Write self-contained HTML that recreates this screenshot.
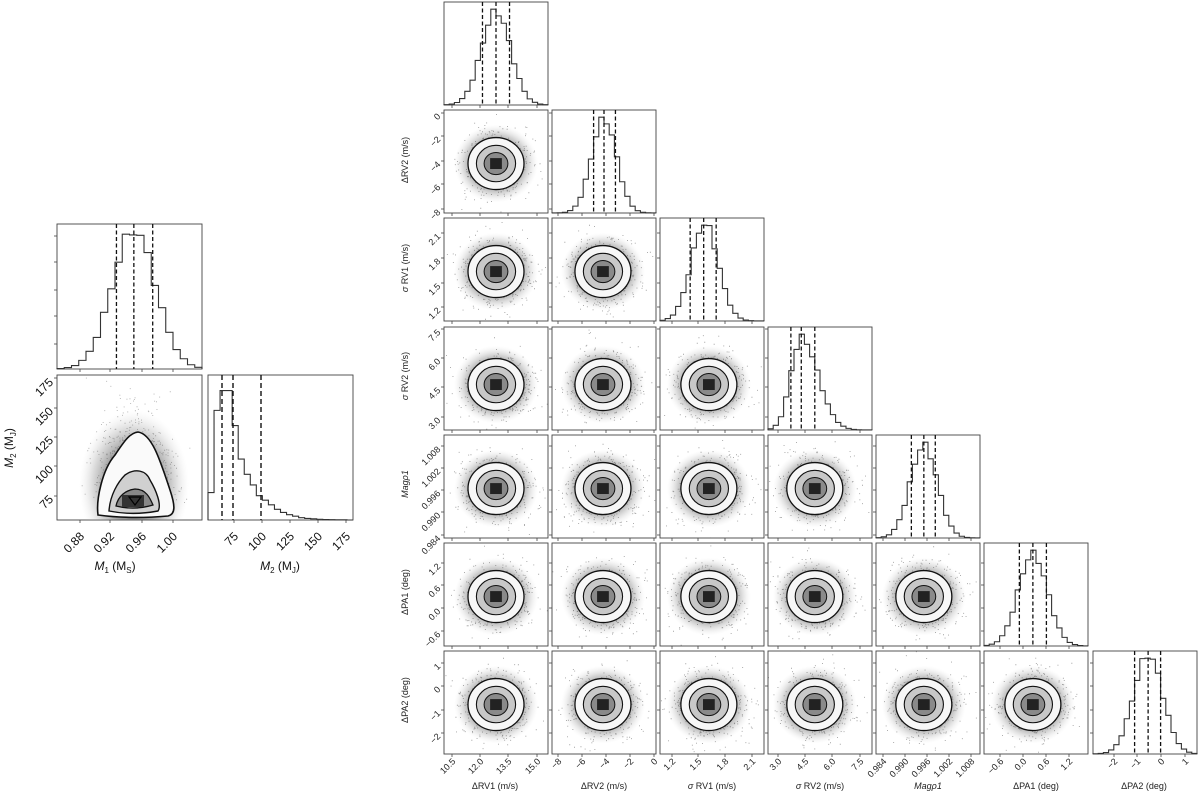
<!DOCTYPE html>
<html><head><meta charset="utf-8"><style>
html,body{margin:0;padding:0;background:#fff;}
svg{display:block;font-family:"Liberation Sans","DejaVu Sans",sans-serif;}
.t{font-size:9px;fill:#222;}
.l{font-size:9px;fill:#222;}
.L{font-size:12px;fill:#111;}
</style></head><body>
<svg id="s" width="1200" height="796" viewBox="0 0 1200 796" xmlns="http://www.w3.org/2000/svg">
<defs>
<radialGradient id="cloud">
<stop offset="0" stop-color="#444" stop-opacity="1"/>
<stop offset="0.5" stop-color="#666" stop-opacity="0.85"/>
<stop offset="0.75" stop-color="#999" stop-opacity="0.45"/>
<stop offset="1" stop-color="#ddd" stop-opacity="0"/>
</radialGradient>
</defs>
<g id="shapes"></g>
<g class="t">
<text transform="translate(456,762) rotate(-45)" text-anchor="end">10.5</text>
<text transform="translate(484,762) rotate(-45)" text-anchor="end">12.0</text>
<text transform="translate(512,762) rotate(-45)" text-anchor="end">13.5</text>
<text transform="translate(541,762) rotate(-45)" text-anchor="end">15.0</text>
<text transform="translate(562,762) rotate(-45)" text-anchor="end">−8</text>
<text transform="translate(586,762) rotate(-45)" text-anchor="end">−6</text>
<text transform="translate(610,762) rotate(-45)" text-anchor="end">−4</text>
<text transform="translate(634,762) rotate(-45)" text-anchor="end">−2</text>
<text transform="translate(658,762) rotate(-45)" text-anchor="end">0</text>
<text transform="translate(676,762) rotate(-45)" text-anchor="end">1.2</text>
<text transform="translate(702,762) rotate(-45)" text-anchor="end">1.5</text>
<text transform="translate(729,762) rotate(-45)" text-anchor="end">1.8</text>
<text transform="translate(756,762) rotate(-45)" text-anchor="end">2.1</text>
<text transform="translate(782,762) rotate(-45)" text-anchor="end">3.0</text>
<text transform="translate(809,762) rotate(-45)" text-anchor="end">4.5</text>
<text transform="translate(836,762) rotate(-45)" text-anchor="end">6.0</text>
<text transform="translate(864,762) rotate(-45)" text-anchor="end">7.5</text>
<text transform="translate(887,762) rotate(-45)" text-anchor="end">0.984</text>
<text transform="translate(909,762) rotate(-45)" text-anchor="end">0.990</text>
<text transform="translate(931,762) rotate(-45)" text-anchor="end">0.996</text>
<text transform="translate(953,762) rotate(-45)" text-anchor="end">1.002</text>
<text transform="translate(975,762) rotate(-45)" text-anchor="end">1.008</text>
<text transform="translate(1004,762) rotate(-45)" text-anchor="end">−0.6</text>
<text transform="translate(1027,762) rotate(-45)" text-anchor="end">0.0</text>
<text transform="translate(1050,762) rotate(-45)" text-anchor="end">0.6</text>
<text transform="translate(1073,762) rotate(-45)" text-anchor="end">1.2</text>
<text transform="translate(1118,762) rotate(-45)" text-anchor="end">−2</text>
<text transform="translate(1141,762) rotate(-45)" text-anchor="end">−1</text>
<text transform="translate(1165,762) rotate(-45)" text-anchor="end">0</text>
<text transform="translate(1189,762) rotate(-45)" text-anchor="end">1</text>
</g>
<g class="l" text-anchor="middle">
<text x="495" y="789">ΔRV1 (m/s)</text>
<text x="604" y="789">ΔRV2 (m/s)</text>
<text x="712" y="789"><tspan font-style="italic">σ</tspan> RV1 (m/s)</text>
<text x="820" y="789"><tspan font-style="italic">σ</tspan> RV2 (m/s)</text>
<text x="928" y="789" font-style="italic">Magρ1</text>
<text x="1036" y="789">ΔPA1 (deg)</text>
<text x="1144" y="789">ΔPA2 (deg)</text>
</g>
<g class="t">
<text transform="translate(441,117) rotate(-45)" text-anchor="end">0</text>
<text transform="translate(441,140) rotate(-45)" text-anchor="end">−2</text>
<text transform="translate(441,165) rotate(-45)" text-anchor="end">−4</text>
<text transform="translate(441,188) rotate(-45)" text-anchor="end">−6</text>
<text transform="translate(441,213) rotate(-45)" text-anchor="end">−8</text>
<text transform="translate(441,237) rotate(-45)" text-anchor="end">2.1</text>
<text transform="translate(441,262) rotate(-45)" text-anchor="end">1.8</text>
<text transform="translate(441,287) rotate(-45)" text-anchor="end">1.5</text>
<text transform="translate(441,311) rotate(-45)" text-anchor="end">1.2</text>
<text transform="translate(441,333) rotate(-45)" text-anchor="end">7.5</text>
<text transform="translate(441,362) rotate(-45)" text-anchor="end">6.0</text>
<text transform="translate(441,391) rotate(-45)" text-anchor="end">4.5</text>
<text transform="translate(441,421) rotate(-45)" text-anchor="end">3.0</text>
<text transform="translate(441,450) rotate(-45)" text-anchor="end">1.008</text>
<text transform="translate(441,472) rotate(-45)" text-anchor="end">1.002</text>
<text transform="translate(441,494) rotate(-45)" text-anchor="end">0.996</text>
<text transform="translate(441,516) rotate(-45)" text-anchor="end">0.990</text>
<text transform="translate(441,539) rotate(-45)" text-anchor="end">0.984</text>
<text transform="translate(441,567) rotate(-45)" text-anchor="end">1.2</text>
<text transform="translate(441,589) rotate(-45)" text-anchor="end">0.6</text>
<text transform="translate(441,612) rotate(-45)" text-anchor="end">0.0</text>
<text transform="translate(441,635) rotate(-45)" text-anchor="end">−0.6</text>
<text transform="translate(441,667) rotate(-45)" text-anchor="end">1</text>
<text transform="translate(441,690) rotate(-45)" text-anchor="end">0</text>
<text transform="translate(441,714) rotate(-45)" text-anchor="end">−1</text>
<text transform="translate(441,737) rotate(-45)" text-anchor="end">−2</text>
</g>
<g class="l" text-anchor="middle">
<text transform="translate(408,160) rotate(-90)">ΔRV2 (m/s)</text>
<text transform="translate(408,268) rotate(-90)"><tspan font-style="italic">σ</tspan> RV1 (m/s)</text>
<text transform="translate(408,376) rotate(-90)"><tspan font-style="italic">σ</tspan> RV2 (m/s)</text>
<text transform="translate(408,484) rotate(-90)" font-style="italic">Magρ1</text>
<text transform="translate(408,592) rotate(-90)">ΔPA1 (deg)</text>
<text transform="translate(408,700) rotate(-90)">ΔPA2 (deg)</text>
</g>
<g class="L">
<text transform="translate(85,537) rotate(-45)" text-anchor="end">0.88</text>
<text transform="translate(115,537) rotate(-45)" text-anchor="end">0.92</text>
<text transform="translate(147,537) rotate(-45)" text-anchor="end">0.96</text>
<text transform="translate(178,537) rotate(-45)" text-anchor="end">1.00</text>
<text transform="translate(239,537) rotate(-45)" text-anchor="end">75</text>
<text transform="translate(267,537) rotate(-45)" text-anchor="end">100</text>
<text transform="translate(295,537) rotate(-45)" text-anchor="end">125</text>
<text transform="translate(323,537) rotate(-45)" text-anchor="end">150</text>
<text transform="translate(351,537) rotate(-45)" text-anchor="end">175</text>
<text transform="translate(54,383) rotate(-45)" text-anchor="end">175</text>
<text transform="translate(54,412) rotate(-45)" text-anchor="end">150</text>
<text transform="translate(54,441) rotate(-45)" text-anchor="end">125</text>
<text transform="translate(54,470) rotate(-45)" text-anchor="end">100</text>
<text transform="translate(54,500) rotate(-45)" text-anchor="end">75</text>
<text x="115" y="570" text-anchor="middle"><tspan font-style="italic">M</tspan><tspan font-size="8" dy="3">1</tspan><tspan dy="-3"> (M</tspan><tspan font-size="8" dy="3">S</tspan><tspan dy="-3">)</tspan></text>
<text x="280" y="570" text-anchor="middle"><tspan font-style="italic">M</tspan><tspan font-size="8" dy="3">2</tspan><tspan dy="-3"> (M</tspan><tspan font-size="8" dy="3">J</tspan><tspan dy="-3">)</tspan></text>
<text transform="translate(13,448) rotate(-90)" text-anchor="middle"><tspan font-style="italic">M</tspan><tspan font-size="8" dy="3">2</tspan><tspan dy="-3"> (M</tspan><tspan font-size="8" dy="3">J</tspan><tspan dy="-3">)</tspan></text>
</g>
</svg>
<script>
(function(){
var NS="http://www.w3.org/2000/svg",G=document.getElementById("shapes");
function el(n,a,p){var e=document.createElementNS(NS,n);for(var k in a)e.setAttribute(k,a[k]);(p||G).appendChild(e);return e;}
var seed=7;function rnd(){seed=(seed*16807)%2147483647;return seed/2147483647;}
function gauss(){var u=rnd()||1e-9,v=rnd();return Math.sqrt(-2*Math.log(u))*Math.cos(6.2832*v);}
function frame(x,y,w,h,tx,ty){
 el("rect",{x:x,y:y,width:w,height:h,fill:"none",stroke:"#444","stroke-width":0.9});
 (tx||[]).forEach(function(t){el("line",{x1:t,y1:y+h,x2:t,y2:y+h+3,stroke:"#444","stroke-width":0.8});});
 (ty||[]).forEach(function(t){el("line",{x1:x,y1:t,x2:x-3,y2:t,stroke:"#444","stroke-width":0.8});});
}
function hist(x,y,w,h,mu,sd,skew,nb,q){
 nb=nb||20;var hs=[],mx=0;
 for(var i=0;i<nb;i++){var c=(i+0.5)/nb,z=(c-mu)/sd;if(skew&&z>0)z=z/skew;var v=Math.exp(-z*z/2)*(1+0.04*Math.sin(i*2.3));hs.push(v);if(v>mx)mx=v;}
 var d="M"+x+","+(y+h),bw=w/nb;
 for(i=0;i<nb;i++){var yy=y+h-hs[i]/mx*h*0.93;d+=" L"+(x+i*bw)+","+yy+" L"+(x+(i+1)*bw)+","+yy;}
 d+=" L"+(x+w)+","+(y+h);
 el("path",{d:d,fill:"none",stroke:"#333","stroke-width":1.1});
 q.forEach(function(f){el("line",{x1:x+f*w,y1:y,x2:x+f*w,y2:y+h,stroke:"#111","stroke-width":1.3,"stroke-dasharray":"4,2.5"});});
}
function blob(x,y,w,h,cx,cy,sx,sy,n){
 var g=el("g",{});
 var cl=el("clipPath",{id:"c"+x+"_"+y},g);el("rect",{x:x,y:y,width:w,height:h},cl);
 var gg=el("g",{"clip-path":"url(#c"+x+"_"+y+")"},g);
 el("ellipse",{cx:cx,cy:cy,rx:sx*3.0,ry:sy*3.0,fill:"url(#cloud)"},gg);
 var d="";for(var i=0;i<n;i++){var px=cx+gauss()*sx*1.2,py=cy+gauss()*sy*1.2;d+="M"+px.toFixed(1)+","+py.toFixed(1)+"h0.9v0.9h-0.9z";}
 el("path",{d:d,fill:"#444","fill-opacity":0.55},gg);
 el("ellipse",{cx:cx,cy:cy,rx:sx*2.0,ry:sy*2.0,fill:"#f7f7f7",stroke:"#111","stroke-width":1.3},gg);
 el("ellipse",{cx:cx,cy:cy,rx:sx*1.4,ry:sy*1.4,fill:"#c8c8c8",stroke:"#111","stroke-width":1.1},gg);
 el("ellipse",{cx:cx,cy:cy,rx:sx*0.85,ry:sy*0.85,fill:"#8a8a8a",stroke:"#111","stroke-width":1},gg);
 el("rect",{x:cx-sx*0.42,y:cy-sy*0.42,width:sx*0.84,height:sy*0.84,fill:"#222"},gg);
}
var X=[444,552,660,768,876,984,1093],Y=[2,110,218,327,435,543,651],W=104,H=103;
var bt=[[452,480,508,537],[558,582,606,630,654],[672,698,725,752],[778,805,832,860],[883,905,927,949,971],[1000,1023,1046,1069],[1114,1137,1161,1185]];
var lt=[[],[113,136,161,184,209],[233,258,283,307],[329,358,387,417],[446,468,490,512,535],[563,585,608,631],[663,686,710,733]];
var cen=[[0.5,0.52],[0.49,0.52],[0.47,0.52],[0.45,0.55],[0.46,0.52],[0.47,0.53]];
var hq=[[0.37,0.5,0.63],[0.4,0.5,0.61],[0.29,0.42,0.54],[0.22,0.32,0.45],[0.34,0.46,0.57],[0.34,0.47,0.6],[0.4,0.53,0.65]];
var hm=[0.5,0.5,0.43,0.32,0.46,0.47,0.53];
var hsd=[0.14,0.12,0.13,0.1,0.13,0.14,0.14];
for(var i=0;i<7;i++){
 for(var j=0;j<=i;j++){
  var x=X[j],y=Y[i];
  frame(x,y,W,H,bt[j],lt[i]);
  if(i==j){hist(x,y,W,H,hm[i],hsd[i],i==3?1.6:0,20,hq[i]);}
  else{var c=cen[j];blob(x,y,W,H,x+c[0]*W,y+0.52*H+(i==3?4:0),14,13,700);}
 }
}
frame(57,224,145,145,[80,110,142,173],[236,262,290,316,344]);
hist(57,224,145,145,0.53,0.15,0,20,[0.41,0.53,0.66]);
frame(57,375,145,145,[80,110,142,173],[378,408,437,466,496]);
(function(){var x=57,y=375,w=145,h=145;
 var cl=el("clipPath",{id:"cm"});el("rect",{x:x,y:y,width:w,height:h},cl);
 var g=el("g",{"clip-path":"url(#cm)"});
 el("ellipse",{cx:134,cy:485,rx:55,ry:75,fill:"url(#cloud)","fill-opacity":0.8},g);
 var d="";for(var i=0;i<1500;i++){var px=134+gauss()*17,py=510-Math.abs(gauss())*38-rnd()*8;d+="M"+px.toFixed(1)+","+py.toFixed(1)+"h0.9v0.9h-0.9z";}
 el("path",{d:d,fill:"#444","fill-opacity":0.45},g);
 el("path",{d:"M98,515 C96,500 102,470 115,455 C125,440 130,433 138,432 C152,434 160,460 170,490 C175,505 176,514 168,516 C145,518 120,518 98,515 Z",fill:"#fafafa",stroke:"#111","stroke-width":1.6},g);
 el("path",{d:"M109,511 C110,495 118,482 125,475 C135,468 146,470 150,480 C156,490 162,505 158,511 C142,514 124,514 109,511 Z",fill:"#d0d0d0",stroke:"#111","stroke-width":1.4},g);
 el("path",{d:"M116,506 C118,496 126,490 135,489 C146,489 150,498 153,505 C140,509 128,509 116,506 Z",fill:"#888",stroke:"#111","stroke-width":1.3},g);
 el("rect",{x:122,y:495,width:22,height:12,fill:"#333"},g);
 el("path",{d:"M129,497 L141,497 L135,505 Z",fill:"none",stroke:"#000","stroke-width":1.2},g);
})();
frame(208,375,145,145,[234,262,290,318,346],[]);
(function(){var x=208,y=375,w=145,h=145,nb=24,bw=w/nb,d="M"+x+","+(y+h);
 var hs=[0.18,0.72,0.85,0.85,0.62,0.4,0.3,0.23,0.16,0.13,0.1,0.07,0.05,0.035,0.025,0.015,0.01,0.008,0.005,0.003,0.002,0.001,0.001,0];
 for(var i=0;i<nb;i++){var yy=y+h-hs[i]*h*1.05;d+=" L"+(x+i*bw)+","+yy+" L"+(x+(i+1)*bw)+","+yy;}
 d+=" L"+(x+w)+","+(y+h);
 el("path",{d:d,fill:"none",stroke:"#333","stroke-width":1.1});
 [222,233,261].forEach(function(t){el("line",{x1:t,y1:y,x2:t,y2:y+h,stroke:"#111","stroke-width":1.4,"stroke-dasharray":"5,3"});});
})();
})();
</script>
</body></html>
